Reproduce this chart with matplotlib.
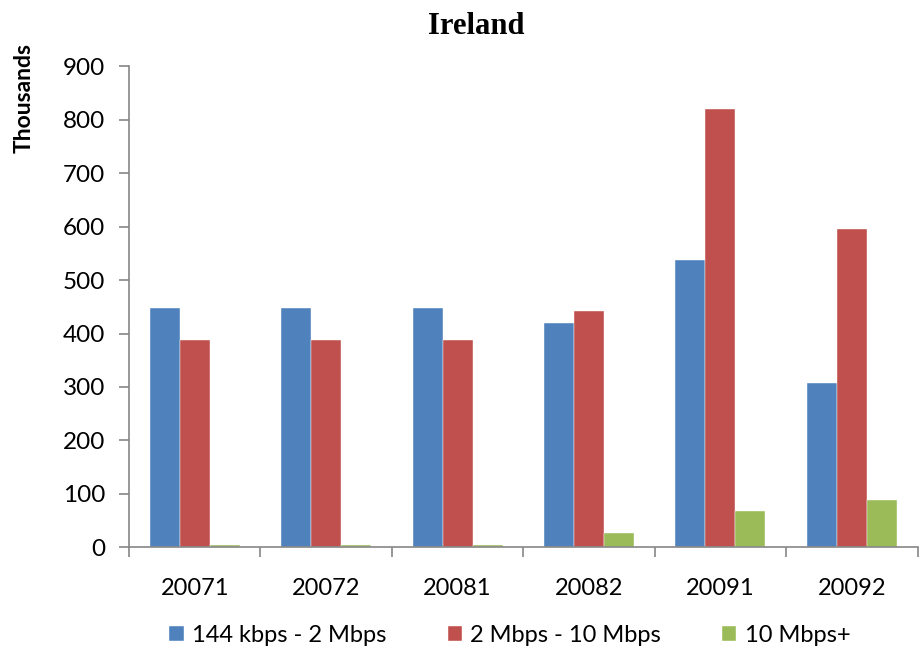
import numpy as np
import matplotlib
matplotlib.use("Agg")
import matplotlib.pyplot as plt

periods = ["20071", "20072", "20081", "20082", "20091", "20092"]
series_names = ["144 kbps - 2 Mbps", "2 Mbps - 10 Mbps", "10 Mbps+"]
low_speed = [448, 448, 448, 420, 537, 308]
mid_speed = [388, 388, 388, 443, 820, 595]
high_speed = [5, 5, 5, 26, 68, 88]
colors = ["#4F81BD", "#C0504D", "#9BBB59"]

plt.rcParams["font.family"] = ["Lato", "DejaVu Sans"]

fig = plt.figure(figsize=(9.19, 6.5), dpi=100)
ax = fig.add_axes([0.1404, 0.158, 0.858, 0.740])

x = np.arange(len(periods))
w = 0.228
for i, (vals, name) in enumerate(zip([low_speed, mid_speed, high_speed], series_names)):
    ax.bar(x + (i - 1) * w, vals, width=w, color=colors[i], label=name,
           edgecolor="white", linewidth=0.3)

ax.set_xlim(-0.5, len(periods) - 0.5)
ax.set_ylim(0, 900)
ax.set_yticks(range(0, 901, 100))
ax.set_xticks(x)
ax.set_xticklabels(periods)
ax.set_xticks(np.arange(-0.5, len(periods)), minor=True)

for s in ["top", "right"]:
    ax.spines[s].set_visible(False)
for s in ["left", "bottom"]:
    ax.spines[s].set_color("#868686")
    ax.spines[s].set_linewidth(1.2)

ax.tick_params(axis="y", direction="out", length=7, color="#868686", width=1.2,
               labelsize=17.5, pad=10)
ax.tick_params(axis="x", which="major", length=0, labelsize=17, pad=22)
ax.tick_params(axis="x", which="minor", direction="out", length=7, color="#868686", width=1.2)

ax.set_ylabel("Thousands", fontsize=16.5, fontweight="bold")
ax.yaxis.set_label_coords(-0.12, 0.935)
fig.text(0.518, 0.96, "Ireland", ha="center", va="center",
         fontsize=22, fontweight="bold", family="Liberation Serif")

ax.legend(loc="center", bbox_to_anchor=(0.483, -0.183), ncol=3, frameon=False,
          fontsize=17, handlelength=0.6, handleheight=0.6, handletextpad=0.35,
          columnspacing=2.6)

fig.savefig("out.png", dpi=100, facecolor="white")
